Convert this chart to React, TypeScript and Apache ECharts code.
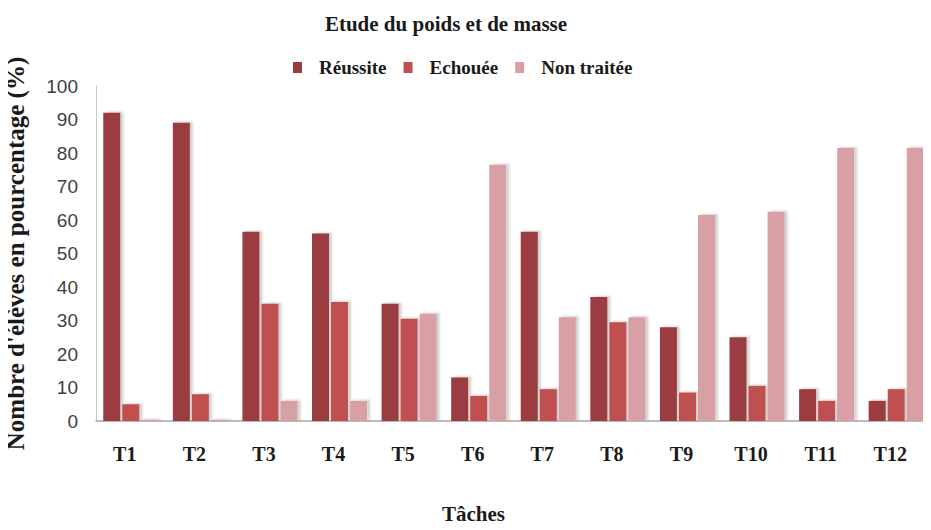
import React, { useEffect, useRef } from "react";
import * as echarts from "echarts";

const categories = ["T1", "T2", "T3", "T4", "T5", "T6", "T7", "T8", "T9", "T10", "T11", "T12"];
const reussite = [92, 89, 56.5, 56, 35, 13, 56.5, 37, 28, 25, 9.5, 6];
const echouee = [5, 8, 35, 35.5, 30.5, 7.5, 9.5, 29.5, 8.5, 10.5, 6, 9.5];
const nonTraitee = [0.4, 0.4, 6, 6, 32, 76.5, 31, 31, 61.5, 62.5, 81.5, 81.5];
const yTicks = { min: 0, max: 100, interval: 10 };

const serif = "'Liberation Serif', 'Times New Roman', serif";

export default function App() {
  const ref = useRef<HTMLDivElement>(null);
  useEffect(() => {
    if (!ref.current) return;
    const chart = echarts.init(ref.current, null, { renderer: "svg" });
    const shadow = {
      shadowColor: "rgba(0,0,0,0.18)",
      shadowOffsetX: 3,
      shadowOffsetY: -1,
      shadowBlur: 2,
    };
    const mk = (name: string, data: number[], color: string) => ({
      name,
      type: "bar",
      data,
      barWidth: 17,
      barGap: "12%",
      itemStyle: { color, ...shadow },
    });
    chart.setOption({
      animation: false,
      backgroundColor: "#ffffff",
      title: {
        text: "Etude du poids et de masse",
        left: 441,
        textAlign: "center",
        top: 8,
        textStyle: { fontFamily: serif, fontWeight: "bold", fontSize: 21, color: "#1a1a1a" },
      },
      legend: {
        top: 53,
        left: 288,
        itemWidth: 9,
        itemHeight: 11,
        itemGap: 17,
        icon: "rect",
        textStyle: {
          fontFamily: serif,
          fontWeight: "bold",
          fontSize: 19,
          color: "#1a1a1a",
          padding: [0, 0, 0, 12],
        },
        data: ["Réussite", "Echouée", "Non traitée"],
      },
      grid: { left: 96, right: 0, top: 86, bottom: 109, containLabel: false, outerBoundsMode: "none" },
      xAxis: {
        type: "category",
        data: categories,
        name: "Tâches",
        nameLocation: "middle",
        nameGap: 82,
        nameTextStyle: {
          fontFamily: serif,
          fontWeight: "bold",
          fontSize: 21,
          color: "#1a1a1a",
          padding: [0, 80, 0, 0],
        },
        axisLine: { show: true, lineStyle: { color: "#a6a6a6", width: 1.5 } },
        axisTick: { show: false },
        axisLabel: {
          fontFamily: serif,
          fontWeight: "bold",
          fontSize: 20,
          color: "#1a1a1a",
          margin: 23,
          padding: [0, 12, 0, 0],
        },
      },
      yAxis: {
        type: "value",
        min: yTicks.min,
        max: yTicks.max,
        interval: yTicks.interval,
        name: "Nombre d'élèves en pourcentage (%)",
        nameLocation: "middle",
        nameGap: 68,
        nameRotate: 90,
        nameTextStyle: { fontFamily: serif, fontWeight: "bold", fontSize: 25, color: "#1a1a1a" },
        axisLine: { show: true, lineStyle: { color: "#c8c8c8", width: 1 } },
        axisTick: { show: false },
        splitLine: { show: false },
        axisLabel: {
          fontFamily: "'Liberation Sans', Arial, sans-serif",
          fontSize: 19,
          color: "#404040",
          margin: 18,
        },
      },
      series: [
        mk("Réussite", reussite, "#9b3c41"),
        mk("Echouée", echouee, "#c05050"),
        mk("Non traitée", nonTraitee, "#d8a0a5"),
      ],
    });
    return () => chart.dispose();
  }, []);
  return <div ref={ref} style={{ width: 931, height: 530, margin: -8 }} />;
}
